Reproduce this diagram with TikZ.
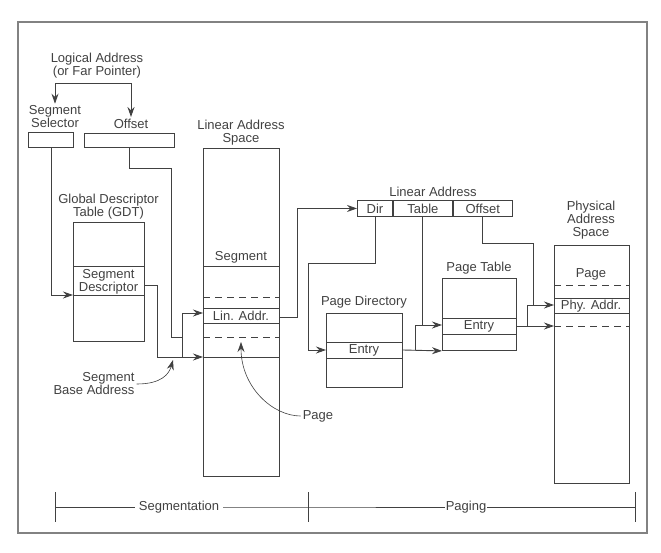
\documentclass[tikz,border=0pt]{standalone}
\usepackage{fontspec}
\setmainfont{Liberation Sans}
\usetikzlibrary{arrows.meta, calc}
\definecolor{inkgray}{RGB}{65, 65, 65}
\definecolor{framegray}{RGB}{130, 130, 130}

\begin{document}
\begin{tikzpicture}[
  x=1pt, y=-1pt,
  every node/.style={font=\fontsize{13}{13}\selectfont, text=inkgray, inner sep=0pt},
  line/.style={draw=inkgray, line width=0.9pt},
  dashline/.style={line, dash pattern=on 7pt off 5pt},
  box/.style={line, rectangle, anchor=north west},
  arrow/.style={line, -{Stealth[length=10pt, width=7pt]}},
  gap/.style={fill=white, inner xsep=4pt}
]
  \useasboundingbox (0,0) rectangle (661,552);
  \draw[draw=framegray, line width=1.4pt] (18,22) rectangle (647,533);

  % Logical address (selector + offset)
  \node[align=center] (logaddr) at (97,66) {Logical Address\\(or Far Pointer)};
  \node[align=center] (sellbl) at (55,117) {Segment\\Selector};
  \node (offlbl) at (131,124) {Offset};
  \node[box, minimum width=45, minimum height=15] (sel) at (28,132) {};
  \node[box, minimum width=90, minimum height=14] (off) at (84,133) {};
  \coordinate (fork) at (94,83);
  \draw[arrow, shorten >=2pt] (fork) -| (sellbl.north);
  \draw[arrow, shorten >=2pt] (fork) -| (offlbl.north);

  % Global descriptor table
  \node[align=center] (gdtlbl) at (108.5,207) {Global Descriptor\\Table (GDT)};
  \node[box, minimum width=71, minimum height=119] (gdt) at (73,222) {};
  \draw[line] (gdt.west |- 0,266) -- (gdt.east |- 0,266);
  \draw[line] (gdt.west |- 0,295) -- (gdt.east |- 0,295);
  \node[align=center] (desc) at (108.5,282) {Segment\\Descriptor};

  % Linear address space
  \node[align=center] (laslbl) at (241,133) {Linear Address\\Space};
  \node[box, minimum width=76, minimum height=328] (las) at (203,148) {};
  \foreach \y in {266,308,323,357}
    \draw[line] (las.west |- 0,\y) -- (las.east |- 0,\y);
  \foreach \y in {297,337}
    \draw[dashline] (las.west |- 0,\y) -- (las.east |- 0,\y);
  \node (lasseg) at (241,257) {Segment};
  \node (linaddr) at (241,316) {Lin. Addr.};

  % Segmentation connectors
  \coordinate (gdtin) at (gdt.west |- 0,295);
  \coordinate (gdtout) at (gdt.east |- 0,285);
  \coordinate (lasbase) at (las.west |- 0,357);
  \coordinate (lasin) at (las.west |- 0,313);
  \coordinate (lasout) at (las.east |- 0,317);
  \coordinate (jbot) at (182,357);
  \draw[arrow] (sel.south) |- (gdtin);
  \draw[arrow] (gdtout) -- ++(13,0) |- (lasbase);
  \draw[arrow] (jbot) |- (lasin);
  \draw[line] (off.south) -- ++(0,21) -| (171,337) -- (jbot |- 0,337);

  % Linear address fields
  \node (laddrlbl) at (433,192) {Linear Address};
  \node[box, minimum width=35, minimum height=16] (dir) at (357,200) {Dir};
  \node[box, minimum width=59, minimum height=16] (tbl) at (dir.north east) {Table};
  \node[box, minimum width=59, minimum height=16] (ofs) at (tbl.north east) {Offset};
  \draw[arrow] (lasout) -- ++(18,0) |- (dir.west);

  % Page directory
  \node (pdlbl) at (364,302) {Page Directory};
  \node[box, minimum width=76, minimum height=74] (pd) at (326,313) {};
  \draw[line] (pd.west |- 0,342) -- (pd.east |- 0,342);
  \draw[line] (pd.west |- 0,358) -- (pd.east |- 0,358);
  \node (pdentry) at (364,350) {Entry};

  % Page table
  \node (ptlbl) at (479,268) {Page Table};
  \node[box, minimum width=74, minimum height=72] (pt) at (442,278) {};
  \draw[line] (pt.west |- 0,318) -- (pt.east |- 0,318);
  \draw[line] (pt.west |- 0,334) -- (pt.east |- 0,334);
  \node (ptentry) at (479,326) {Entry};

  % Physical address space
  \node[align=center] (paslbl) at (591,220) {Physical\\Address\\Space};
  \node[box, minimum width=75, minimum height=238] (pas) at (554,245) {};
  \foreach \y in {298,313}
    \draw[line] (pas.west |- 0,\y) -- (pas.east |- 0,\y);
  \foreach \y in {285,326}
    \draw[dashline] (pas.west |- 0,\y) -- (pas.east |- 0,\y);
  \node (paspage) at (591,274) {Page};
  \node (phyaddr) at (591,306) {Phy. Addr.};

  % Paging connectors
  \coordinate (pdin) at (pd.west |- 0,350);
  \coordinate (pdout) at (pd.east |- 0,350);
  \coordinate (ptin) at (pt.west |- 0,325);
  \coordinate (ptout) at (pt.east |- 0,326);
  \coordinate (pasin) at (pas.west |- 0,305);
  \coordinate (pasbase) at (pas.west |- 0,326);
  \coordinate (j2) at (415,350);
  \coordinate (j3) at (527,326);
  \draw[arrow] (dir.south) -- ++(0,47) -| (308,350) -- (pdin);
  \draw[arrow] (pdout) -- (pt.south west);
  \draw[arrow] (j2) |- (ptin);
  \draw[line] (tbl.south) -- (tbl.south |- ptin);
  \draw[arrow] (ptout) -- (pasbase);
  \draw[arrow] (j3) |- (pasin);
  \draw[line] (ofs.south) -- ++(0,27) -| (533,305);

  % Callouts
  \node[align=right] (sbalbl) at (94,384) {Segment\\Base Address};
  \coordinate (sbatip) at (173,360);
  \draw[arrow, line width=0.6pt] ([xshift=2pt]sbalbl.east) .. controls +(25,0) and +(-4,14) .. (sbatip);
  \node (pglbl) at (318,416) {Page};
  \coordinate (pgtip) at (241,342);
  \draw[arrow, line width=0.6pt] ([xshift=-2pt]pglbl.west) .. controls +(-28,0) and +(0,45) .. (pgtip);

  % Segmentation / paging bar
  \coordinate (barl) at (55,507);
  \coordinate (barm) at (308,507);
  \coordinate (barr) at (635,507);
  \node[gap] (segtxt) at (179,507) {Segmentation};
  \node[gap, inner xsep=1pt] (pagtxt) at (466,507) {Paging};
  \draw[line] (barl) -- (segtxt.west);
  \draw[line] (segtxt.east) -- (barm) -- (pagtxt.west);
  \draw[line] (pagtxt.east) -- (barr);
  \foreach \c in {barl,barm,barr}
    \draw[line] ($(\c)+(0,-15)$) -- ($(\c)+(0,15)$);
\end{tikzpicture}
\end{document}
